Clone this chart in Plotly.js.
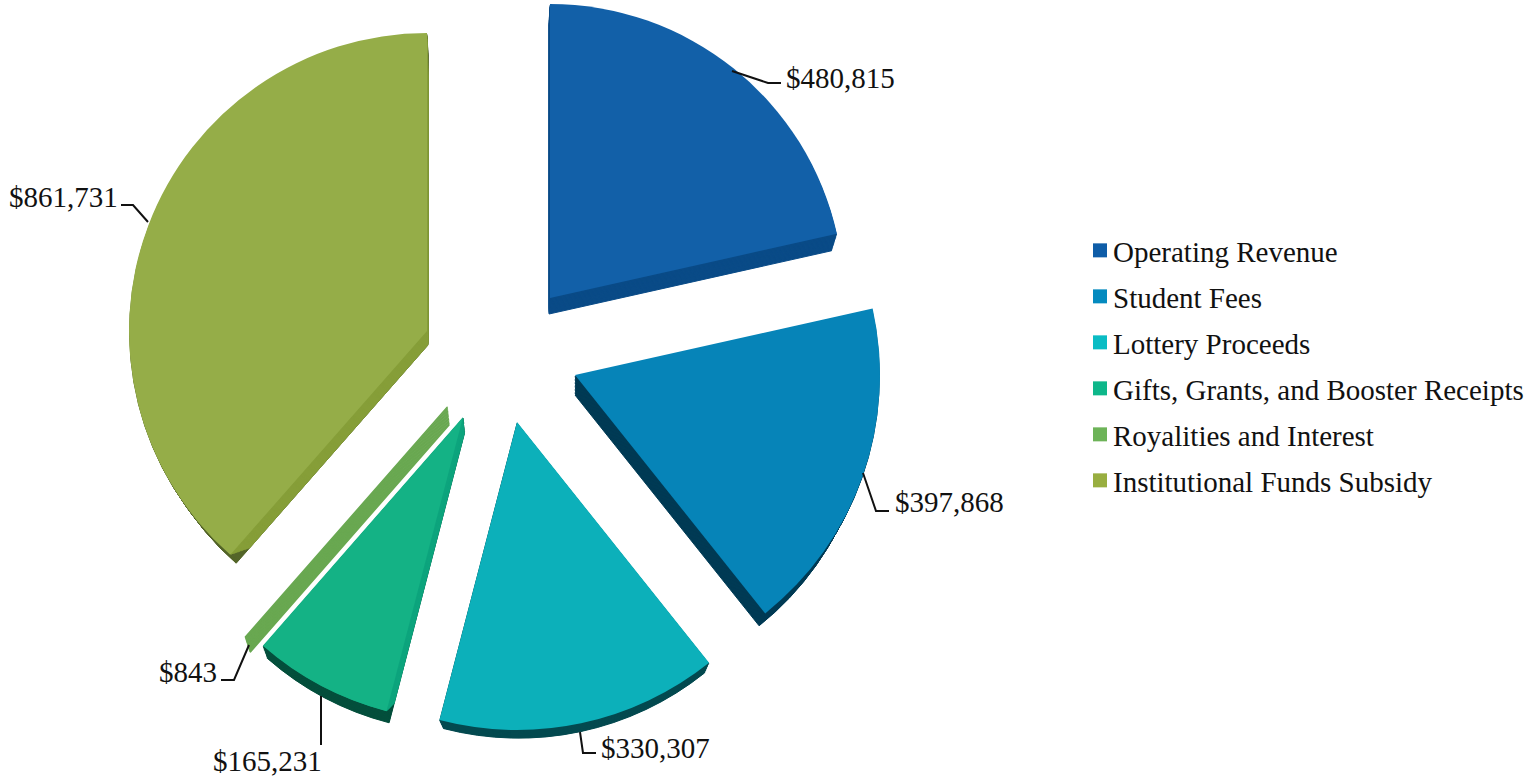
<!DOCTYPE html>
<html>
<head>
<meta charset="utf-8">
<script src="https://cdn.plot.ly/plotly-3.0.1.min.js"></script>
<style>
html,body{margin:0;padding:0;background:#fff;overflow:hidden;width:1540px;height:777px}
#chart{position:absolute;left:0;top:-60px}
</style>
</head>
<body>
<div id="chart"></div>
<script>
// ---- data ----
var categories = ["Operating Revenue","Student Fees","Lottery Proceeds","Gifts, Grants, and Booster Receipts","Royalities and Interest","Institutional Funds Subsidy"];
var amounts = [480815,397868,330307,165231,843,861731];
var valueLabels = ["$480,815","$397,868","$330,307","$165,231","$843","$861,731"];

// ---- colours ----
var faceColors = ["#1260A8","#0684B8","#0CB0BA","#14B285","#69A851","#95AD48"];
var legendColors = ["#0E5DA8","#048ABF","#0ABCC4","#0EB78A","#6DB358","#98AE40"];
var sideColors = ["#0A4B87","#003B55","#044A50","#044F3C","#69A851","#55662A"];
var bandColors = [null,null,null,"#0EA57D",null,"#869E39"];

// ---- layout of the exploded pie, in page pixels ----
var W = 1540, TOP = 60, H = 837;
var PULL = 0.25;
var sliceTip = [[550,298],[575,375],[517,422],[463,417],[447,406],[427,331]];
var sliceRadius = [294,305,308,304,306,298];
var depthShift = [[-1,16],[0,20],[1.5,18],[1.5,16],[2,19],[1,14]];
var depthScale = [0.985,0.968,0.968,0.985,0.985,0.975];
var LAYERS = 14, BANDCUT = 20;

var labelFont = "Liberation Serif";
var labelSize = 29;
var legendTextPull = 7;
var labelAnchor = [
  {x:784,y:78,a:"left"},{x:893,y:502,a:"left"},{x:599,y:748,a:"left"},
  {x:324,y:761,a:"right"},{x:219,y:672,a:"right"},{x:120,y:197,a:"right"}];
var leaderPaths = [
  [[732,71],[768,83],[781,83]],
  [[863,473],[876,511],[889,511]],
  [[580,732],[583,753],[596,753]],
  [[321,696],[321,745]],
  [[249,645],[234,680],[221,680]],
  [[148,222],[133,205],[121,205]]];

// ---- build ----
var total = amounts.reduce(function(a,b){return a+b;},0);
var dirs = [], run = 0;
amounts.forEach(function(v){
  var mid = (run + v/2)/total*2*Math.PI; run += v;
  dirs.push([Math.sin(mid),-Math.cos(mid)]);
});
function pieTrace(i,color,t,cut,stroke){
  var tip = sliceTip[i];
  var k = 1+(depthScale[i]-1)*t;
  var tx = tip[0]+t*depthShift[i][0];
  var ty = tip[1]+t*depthShift[i][1];
  var r = sliceRadius[i]*k-cut;
  var cx = tx-PULL*r*dirs[i][0], cy = ty-PULL*r*dirs[i][1];
  var R = r*(1+PULL);
  var colors = amounts.map(function(_,j){return j===i?color:"rgba(0,0,0,0)";});
  var widths = amounts.map(function(_,j){return j===i?stroke:0;});
  return {type:"pie",labels:categories,values:amounts,sort:false,direction:"clockwise",rotation:0,
    pull:PULL,textinfo:"none",hoverinfo:"skip",showlegend:false,
    marker:{colors:colors,line:{color:colors,width:widths}},
    domain:{x:[(cx-R)/W,(cx+R)/W],y:[1-(cy+R+TOP)/H,1-(cy-R+TOP)/H]}};
}
var traces = [];
categories.forEach(function(name,i){
  traces.push({type:"scatter",x:[null],y:[null],mode:"markers",name:name,legendgroup:"g"+i,
    marker:{symbol:"square",size:14,color:legendColors[i]},hoverinfo:"skip"});
});
var n, i;
for(i=0;i<6;i++){
  for(n=LAYERS;n>=1;n--){ traces.push(pieTrace(i,sideColors[i],n/LAYERS,0,i===4?1.5:1)); }
}
for(i=0;i<6;i++){
  if(!bandColors[i]) continue;
  for(n=LAYERS;n>=1;n--){ traces.push(pieTrace(i,bandColors[i],n/LAYERS,BANDCUT*n/LAYERS,0.8)); }
}
for(i=0;i<6;i++){
  if(i===4) continue;
  traces.push(pieTrace(i,faceColors[i],0,0,0));
}

var annotations = valueLabels.map(function(txt,i){
  var p = labelAnchor[i];
  return {xref:"x",yref:"y",x:p.x,y:p.y,text:txt,showarrow:false,xanchor:p.a,yanchor:"middle",
    font:{family:labelFont,size:labelSize,color:"#111"}};
});
var shapes = leaderPaths.map(function(pts){
  return {type:"path",xref:"x",yref:"y",layer:"above",
    path:pts.map(function(p,j){return (j?"L":"M")+p[0]+","+p[1];}).join(" "),
    line:{color:"#111",width:2}};
});
var layout = {
  width:W,height:H,margin:{l:0,r:0,t:0,b:0,pad:0},
  paper_bgcolor:"#fff",plot_bgcolor:"#fff",showlegend:true,hovermode:false,
  xaxis:{visible:false,range:[0,W],fixedrange:true},
  yaxis:{visible:false,range:[777,-TOP],fixedrange:true},
  legend:{x:1080/W,y:1-(225+TOP)/H,xanchor:"left",yanchor:"top",bgcolor:"rgba(0,0,0,0)",
    font:{family:labelFont,size:labelSize,color:"#111"},tracegroupgap:5.3,traceorder:"grouped"},
  annotations:annotations,shapes:shapes
};
Plotly.newPlot("chart",traces,layout,{displayModeBar:false,staticPlot:true}).then(function(gd){
  gd.querySelectorAll(".legendtext").forEach(function(el){
    el.setAttribute("x",parseFloat(el.getAttribute("x"))-legendTextPull);
  });
});
</script>
</body>
</html>
